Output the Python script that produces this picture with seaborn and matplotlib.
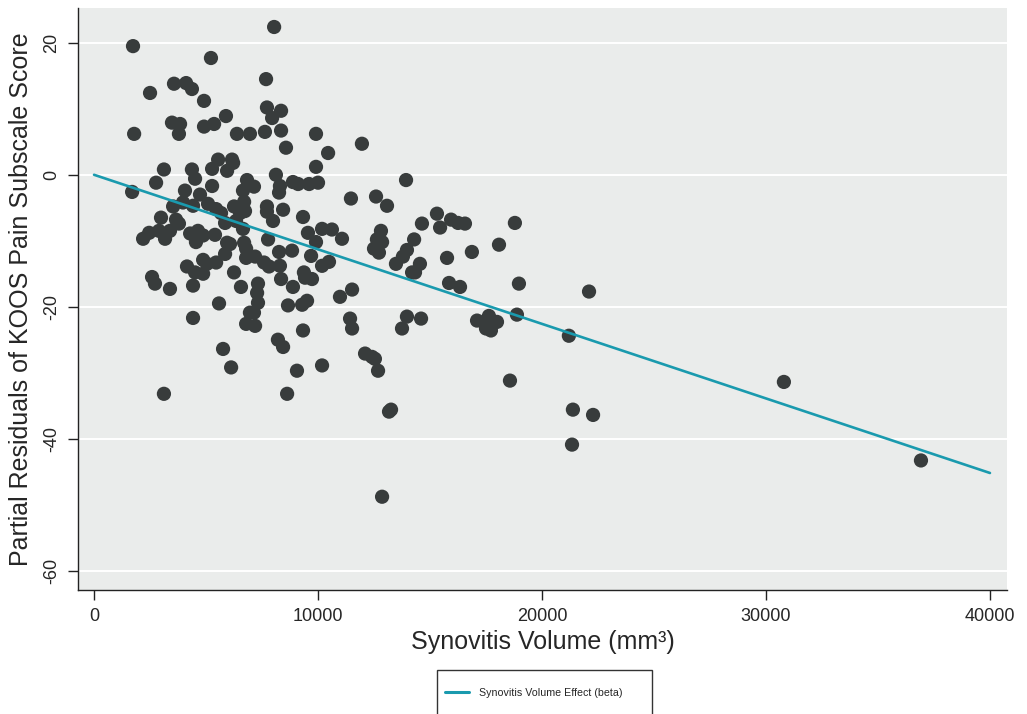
import numpy as np
import pandas as pd
import matplotlib
matplotlib.use("Agg")
import matplotlib.pyplot as plt
from matplotlib.patches import Rectangle
import seaborn as sns

# Synovitis volume (mm^3) and partial residuals
volume = [1740, 8040, 5220, 2500, 3570, 4110, 4370, 4910, 5890, 7680,
          7720, 8350, 7950, 3480, 3840, 3790, 4910, 5360, 6380, 6960,
          7630, 8350, 1790, 8570, 9910, 11960, 10450, 9910, 5540, 6160,
          6210, 5940, 5270, 4370, 4510, 3120, 2770, 1700, 4060, 4730,
          5270, 6830, 6650, 8120, 8300, 8260, 8880, 9110, 9600, 10000,
          11470, 12590, 13930, 13080, 7140, 3530, 3970, 4420, 5090, 5450,
          5670, 6250, 6700, 6740, 6520, 2990, 3660, 3790, 5850, 6340,
          6650, 2460, 2190, 2900, 3390, 3170, 4290, 4640, 4870, 4550,
          5400, 5940, 6070, 5850, 6700, 6790, 6790, 4870, 5040, 5450,
          4150, 4510, 4870, 6250, 2590, 2720, 3390, 4420, 6560, 5580,
          4420, 6790, 6960, 5760, 6120, 3120, 7720, 7720, 8440, 7990,
          9330, 7770, 7190, 8260, 8840, 9550, 9910, 10180, 10620, 11070,
          9690, 10180, 10490, 7590, 7810, 8300, 8350, 8880, 9370, 9420,
          9730, 7320, 7280, 7320, 7140, 7190, 8660, 9290, 9510, 10980,
          11520, 9330, 8210, 8440, 9060, 10180, 8620, 11430, 11520, 12100,
          12410, 12540, 12680, 13170, 13260, 12860, 12810, 12630, 12860, 12500,
          12720, 13970, 14290, 13790, 13480, 14200, 14330, 14550, 14640, 15310,
          15450, 15940, 16250, 16560, 15760, 16870, 15850, 16340, 18080, 18790,
          18970, 22100, 13970, 14600, 13750, 17100, 17630, 17540, 17990, 17500,
          17720, 18880, 21200, 18570, 21380, 22280, 21340, 30800, 36920]

residual = [19.5, 22.4, 17.7, 12.4, 13.8, 13.9, 13.0, 11.2, 8.9, 14.5,
            10.2, 9.7, 8.6, 7.9, 7.7, 6.2, 7.3, 7.7, 6.2, 6.2,
            6.5, 6.7, 6.2, 4.1, 6.2, 4.7, 3.3, 1.2, 2.3, 2.3,
            1.8, 0.6, 0.9, 0.8, -0.6, 0.8, -1.2, -2.6, -2.4, -3.0,
            -1.7, -0.8, -2.4, 0.0, -1.7, -2.7, -1.1, -1.4, -1.4, -1.2,
            -3.6, -3.3, -0.8, -4.7, -1.8, -4.8, -4.2, -4.7, -4.4, -5.2,
            -5.8, -4.8, -4.1, -5.5, -5.8, -6.5, -6.8, -7.4, -7.3, -7.0,
            -8.2, -8.8, -9.7, -8.5, -8.5, -9.7, -8.9, -8.5, -9.2, -10.2,
            -9.1, -10.3, -10.5, -12.0, -10.3, -11.2, -12.6, -12.9, -13.5, -13.3,
            -13.9, -14.8, -15.0, -14.8, -15.5, -16.5, -17.3, -16.8, -17.0, -19.5,
            -21.7, -22.6, -20.9, -26.4, -29.2, -33.2, -4.8, -5.6, -5.3, -7.0,
            -6.4, -9.8, -12.4, -11.7, -11.5, -8.8, -10.2, -8.2, -8.3, -9.7,
            -12.3, -13.8, -13.2, -13.3, -13.9, -13.8, -15.8, -17.0, -14.8, -15.6,
            -15.8, -16.5, -17.9, -19.4, -20.9, -22.9, -19.8, -19.7, -19.1, -18.5,
            -17.4, -23.6, -25.0, -26.1, -29.7, -28.9, -33.2, -21.8, -23.3, -27.1,
            -27.6, -27.9, -29.7, -35.9, -35.6, -48.8, -8.5, -9.8, -10.2, -11.2,
            -11.8, -11.4, -9.8, -12.4, -13.5, -14.8, -14.8, -13.5, -7.4, -5.9,
            -8.0, -6.8, -7.3, -7.4, -12.6, -11.7, -16.4, -17.0, -10.6, -7.3,
            -16.5, -17.7, -21.5, -21.8, -23.3, -22.1, -21.4, -22.0, -22.3, -23.3,
            -23.6, -21.2, -24.4, -31.2, -35.6, -36.4, -40.9, -31.4, -43.3]

# fitted effect line
fit_x = [0, 40000]
fit_y = [0, -45.2]

x_ticks = [0, 10000, 20000, 30000, 40000]
y_ticks = [-60, -40, -20, 0, 20]

df = pd.DataFrame({"volume": volume, "residual": residual})
fit = pd.DataFrame({"volume": fit_x, "residual": fit_y})

sns.set_style("ticks", {"axes.facecolor": "#eaeceb"})
plt.rcParams["font.family"] = ["Liberation Sans", "DejaVu Sans"]

fig = plt.figure(figsize=(10.27, 7.14), dpi=100)
ax = fig.add_axes([0.076, 0.174, 0.9045, 0.815])

sns.scatterplot(data=df, x="volume", y="residual", ax=ax, color="#383c3c",
                s=105, edgecolor="none", linewidth=0, zorder=3)
sns.lineplot(data=fit, x="volume", y="residual", ax=ax, color="#1a9aae",
             linewidth=1.9, label="Synovitis Volume Effect (beta)", zorder=4,
             legend=False)

ax.set_xlim(-714, 40760)
ax.set_ylim(-62.9, 25.3)
ax.set_xticks(x_ticks)
ax.set_yticks(y_ticks)
ax.set_xticklabels([str(v) for v in x_ticks], fontsize=13)
ax.set_yticklabels([str(v) for v in y_ticks], fontsize=13, rotation=90, va="center")
ax.tick_params(axis="both", length=7, width=1, color="#222222", pad=6)

ax.yaxis.grid(True, color="white", linewidth=1.4)
ax.xaxis.grid(False)
ax.set_axisbelow(True)
for side in ["top", "right"]:
    ax.spines[side].set_visible(False)
for side in ["left", "bottom"]:
    ax.spines[side].set_color("#222222")
    ax.spines[side].set_linewidth(1.0)

ax.set_xlabel("Synovitis Volume (mm³)", fontsize=18, labelpad=4)
ax.set_ylabel("Partial Residuals of KOOS Pain Subscale Score", fontsize=18, labelpad=7)

# legend box below the plot (runs off the bottom edge, as in the original)
fig.patches.append(Rectangle((0.4255, -0.05), 0.2093, 0.1116,
                             transform=fig.transFigure, facecolor="white",
                             edgecolor="#333333", linewidth=1.0, zorder=1))
handles, labels = ax.get_legend_handles_labels()
leg = fig.legend(handles, labels, loc="center left",
                 bbox_to_anchor=(0.4333, 1 - 693 / 714),
                 fontsize=7.7, frameon=False, borderpad=0,
                 handlelength=2.25, handletextpad=0.9, borderaxespad=0)
for line in leg.get_lines():
    line.set_linewidth(2.2)

fig.savefig("out.png", dpi=100)
